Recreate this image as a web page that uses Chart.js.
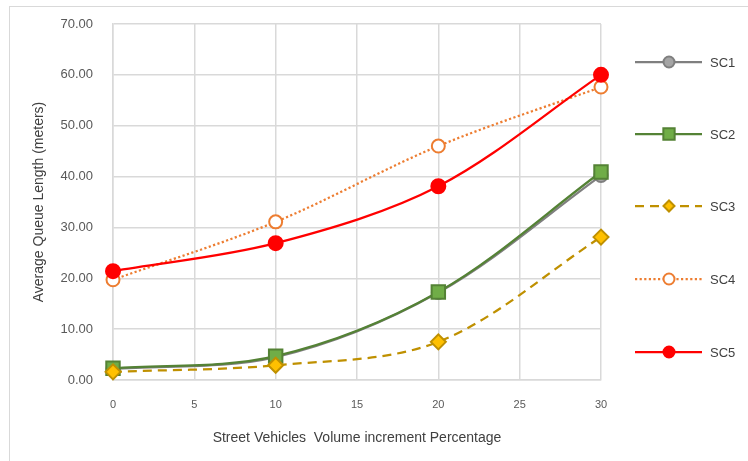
<!DOCTYPE html>
<html>
<head>
<meta charset="utf-8">
<script src="https://cdn.jsdelivr.net/npm/chart.js@4.4.1/dist/chart.umd.min.js"></script>
<style>
  html, body { margin: 0; padding: 0; background: #fff; }
  #frame { position: absolute; left: 9px; top: 6px; width: 748px; height: 470px; border: 1px solid #d9d9d9; box-sizing: border-box; }
  #wrap { position: absolute; left: 0; top: 0; width: 748px; height: 461px; }
</style>
</head>
<body>
<div id="frame"></div>
<div id="wrap"><canvas id="c" width="748" height="461"></canvas></div>
<script>
// Volume increment (%) on the x axis
const increments = [0, 10, 20, 30];
// Average queue length (meters) per scenario
const sc1 = [2.2, 4.5, 17.2, 40.2];
const sc2 = [2.3, 4.7, 17.3, 40.9];
const sc3 = [1.6, 2.9, 7.5, 28.1];
const sc4 = [19.7, 31.1, 46.0, 57.6];
const sc5 = [21.4, 26.9, 38.1, 60.0];
const seriesNames = ['SC1', 'SC2', 'SC3', 'SC4', 'SC5'];

const FONT = '"Liberation Sans", Arial, sans-serif';
const toPoints = vals => vals.map((v, i) => ({ x: increments[i], y: v }));

const styles = [
  { line: '#7f7f7f', fill: '#a5a5a5', edge: '#7f7f7f', shape: 'circle', r: 6.5, lr: 5.5, dash: [], order: 5 },
  { line: '#548235', fill: '#70ad47', edge: '#548235', shape: 'rect', r: 9.5, lr: 8, dash: [], order: 4 },
  { line: '#bf9000', fill: '#ffc000', edge: '#bf9000', shape: 'rectRot', r: 7.5, lr: 5.5, dash: [9, 6], order: 3 },
  { line: '#ed7d31', fill: '#ffffff', edge: '#ed7d31', shape: 'circle', r: 6.5, lr: 5.5, dash: [2.2, 2.4], order: 2 },
  { line: '#ff0000', fill: '#ff0000', edge: '#ff0000', shape: 'circle', r: 7, lr: 5.5, dash: [], order: 1 }
];

const values = [sc1, sc2, sc3, sc4, sc5];
const datasets = values.map((vals, i) => ({
  label: seriesNames[i],
  data: toPoints(vals),
  borderColor: styles[i].line,
  backgroundColor: styles[i].fill,
  pointBackgroundColor: styles[i].fill,
  pointBorderColor: styles[i].edge,
  pointBorderWidth: 2,
  pointStyle: styles[i].shape,
  pointRadius: styles[i].r,
  borderWidth: 2.25,
  borderDash: styles[i].dash,
  tension: 0.33,
  order: styles[i].order,
  clip: false,
  fill: false
}));

// Vertical legend on the right: line sample with marker, then the name
const sideLegend = {
  id: 'sideLegend',
  afterDraw(chart) {
    const ctx = chart.ctx;
    const rows = [62, 134, 206, 279, 352];
    const x0 = 635, x1 = 702, xm = 669, tx = 710;
    chart.data.datasets.forEach((ds, i) => {
      const y = rows[i];
      ctx.save();
      ctx.strokeStyle = ds.borderColor;
      ctx.lineWidth = 2.25;
      ctx.setLineDash(ds.borderDash || []);
      ctx.beginPath();
      ctx.moveTo(x0, y);
      ctx.lineTo(x1, y);
      ctx.stroke();
      ctx.setLineDash([]);
      ctx.fillStyle = ds.pointBackgroundColor;
      ctx.strokeStyle = ds.pointBorderColor;
      ctx.lineWidth = 2;
      Chart.helpers.drawPoint(ctx, { pointStyle: ds.pointStyle, radius: styles[i].lr, borderWidth: 2, rotation: 0 }, xm, y);
      ctx.fillStyle = '#404040';
      ctx.font = '13px ' + FONT;
      ctx.textBaseline = 'middle';
      ctx.textAlign = 'left';
      ctx.fillText(ds.label, tx, y + 1);
      ctx.restore();
    });
  }
};

new Chart(document.getElementById('c'), {
  type: 'line',
  data: { datasets },
  options: {
    responsive: false,
    animation: false,
    layout: { padding: { left: 27, right: 147, top: 24, bottom: 12 } },
    plugins: { legend: { display: false }, tooltip: { enabled: false } },
    scales: {
      x: {
        type: 'linear',
        min: 0, max: 30,
        afterFit: s => { s.height = 69; s.paddingLeft = 0; s.paddingRight = 0; },
        grid: { color: '#d9d9d9', lineWidth: 1.5, drawTicks: false },
        border: { color: '#d9d9d9', width: 1.5 },
        ticks: { stepSize: 5, color: '#595959', font: { family: FONT, size: 11 }, padding: 18 },
        title: { display: true, text: 'Street Vehicles  Volume increment Percentage', color: '#404040', font: { family: FONT, size: 14 }, padding: { top: 4, bottom: 2 } }
      },
      y: {
        min: 0, max: 70,
        afterFit: s => { s.width = 86; s.paddingTop = 0; s.paddingBottom = 0; },
        grid: { color: '#d9d9d9', lineWidth: 1.5, drawTicks: false },
        border: { color: '#d9d9d9', width: 1.5 },
        ticks: { stepSize: 10, color: '#595959', font: { family: FONT, size: 13 }, padding: 20, callback: v => v.toFixed(2) },
        title: { display: true, text: 'Average Queue Length (meters)', color: '#404040', font: { family: FONT, size: 14 }, padding: { top: 4, bottom: 4 } }
      }
    }
  },
  plugins: [sideLegend]
});
</script>
</body>
</html>
